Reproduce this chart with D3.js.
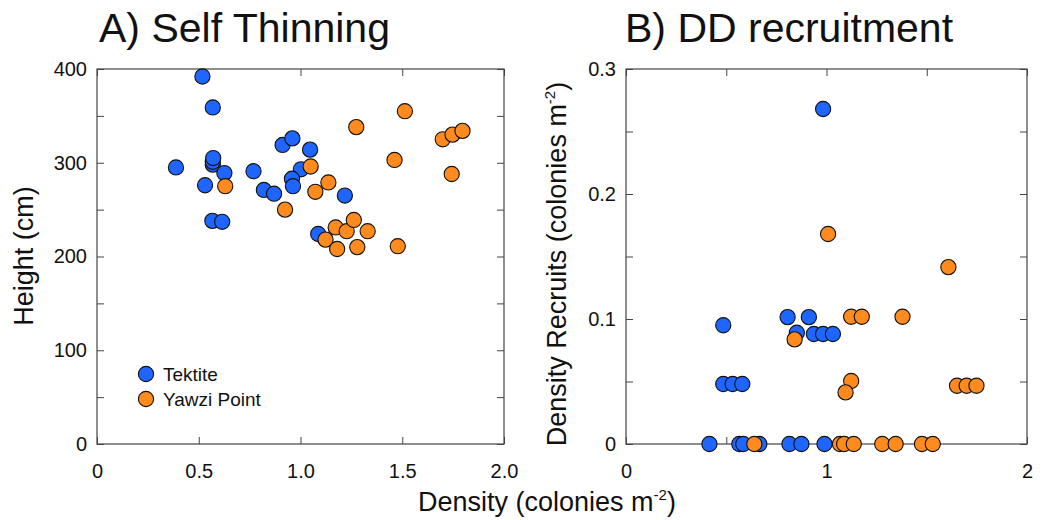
<!DOCTYPE html>
<html>
<head>
<meta charset="utf-8">
<script src="https://cdn.jsdelivr.net/npm/d3@7"></script>
<style>
  body { margin: 0; background: #fff; }
  svg text { font-family: "Liberation Sans", Arial, sans-serif; fill: #111; }
</style>
</head>
<body>
<div class="chart"></div>
<script>
// A) Self thinning: density vs height
const tektiteDensityA = [0.518, 0.569, 0.569, 0.569, 0.571, 0.388, 0.626, 0.531, 0.567, 0.615,
                         0.769, 0.82, 0.87, 0.912, 0.96, 1.047, 1.002, 0.958, 0.963, 1.218, 1.087]
const tektiteHeight   = [392, 359, 298, 301, 305, 295, 289, 276, 238, 237,
                         291, 271, 267, 319, 326, 314, 293, 283, 275, 265, 224]
const yawziDensityA   = [0.63, 0.924, 1.05, 1.073, 1.137, 1.274, 1.513, 1.462, 1.699, 1.747,
                         1.796, 1.743, 1.173, 1.227, 1.262, 1.33, 1.123, 1.18, 1.279, 1.478]
const yawziHeight     = [275, 250, 296, 269, 279, 338, 355, 303, 325, 330,
                         334, 288, 231, 227, 239, 227, 218, 208, 210, 211]

// B) DD recruitment: density vs recruit density
const tektiteDensityB  = [0.983, 0.485, 0.485, 0.532, 0.58, 0.806, 0.912, 0.852, 0.937, 0.983, 1.032,
                          0.416, 0.565, 0.585, 0.665, 0.815, 0.875, 0.99]
const tektiteRecruits  = [0.268, 0.095, 0.048, 0.048, 0.048, 0.1015, 0.1015, 0.089, 0.088, 0.088, 0.088,
                          0, 0, 0, 0, 0, 0, 0]
const yawziDensityB    = [1.008, 1.608, 1.123, 1.176, 1.379, 0.841, 1.123, 1.095, 1.651, 1.699, 1.748,
                          0.64, 1.067, 1.088, 1.136, 1.278, 1.345, 1.476, 1.53]
const yawziRecruits    = [0.168, 0.1415, 0.1018, 0.1018, 0.1018, 0.0837, 0.0504, 0.0413, 0.0466, 0.0466, 0.0466,
                          0, 0, 0, 0, 0, 0, 0, 0]

const xTicksA = [0, 0.5, 1, 1.5, 2]
const yTicksA = [0, 50, 100, 150, 200, 250, 300, 350, 400]
const xTicksB = [0, 0.5, 1, 1.5, 2]
const yTicksB = [0, 0.05, 0.1, 0.15, 0.2, 0.25, 0.3]

const blue = '#1f65ff'
const orange = '#ff8a1d'
const frameColor = '#444'

const svg = d3.select('.chart').append('svg')
    .attr('width', 1051)
    .attr('height', 520)

function panel(opts) {
    const x = d3.scaleLinear().domain([0, 2]).range([opts.left, opts.right])
    const y = d3.scaleLinear().domain(opts.yDomain).range([444, 69])
    const g = svg.append('g')

    // inward ticks on all four sides
    const addAxis = (axis, tx, ty, labels) => {
        const a = g.append('g')
            .attr('transform', `translate(${tx},${ty})`)
            .call(axis)
        a.select('.domain').remove()
        a.selectAll('.tick line').attr('stroke', frameColor)
        a.selectAll('text').attr('font-size', 20).attr('fill', '#111')
        if (!labels) a.selectAll('text').remove()
        return a
    }
    addAxis(d3.axisLeft(y).tickValues(opts.yTicks).tickSize(-7).tickPadding(10)
        .tickFormat(opts.yFmt), opts.left, 0, true)
    addAxis(d3.axisRight(y).tickValues(opts.yTicks).tickSize(-7), opts.right, 0, false)
    addAxis(d3.axisBottom(x).tickValues(opts.xTicks).tickSize(-7).tickPadding(20)
        .tickFormat(opts.xFmt), 0, 444, true)
    addAxis(d3.axisTop(x).tickValues(opts.xTicks).tickSize(-7), 0, 69, false)

    g.append('rect')
        .attr('x', opts.left).attr('y', 69)
        .attr('width', opts.right - opts.left).attr('height', 444 - 69)
        .attr('fill', 'none').attr('stroke', frameColor).attr('stroke-width', 1.2)

    const dots = (xs, ys, color) => {
        g.append('g').selectAll('circle')
            .data(xs.map((d, i) => [d, ys[i]]))
            .enter()
            .append('circle')
            .attr('cx', d => x(d[0]))
            .attr('cy', d => y(d[1]))
            .attr('r', 7.6)
            .attr('fill', color)
            .attr('stroke', '#111')
            .attr('stroke-width', 1.1)
    }
    dots(opts.blueX, opts.blueY, blue)
    dots(opts.orangeX, opts.orangeY, orange)

    svg.append('text')
        .attr('x', opts.titleX).attr('y', 42)
        .attr('font-size', 41)
        .text(opts.title)
}

panel({
    left: 97, right: 504, yDomain: [0, 400],
    xTicks: xTicksA, yTicks: yTicksA,
    xFmt: d => d === 0 ? '0' : d3.format('.1f')(d),
    yFmt: d => d % 100 === 0 ? d : '',
    blueX: tektiteDensityA, blueY: tektiteHeight,
    orangeX: yawziDensityA, orangeY: yawziHeight,
    title: 'A) Self Thinning', titleX: 99
})

panel({
    left: 626, right: 1027, yDomain: [0, 0.3],
    xTicks: xTicksB, yTicks: yTicksB,
    xFmt: d => Number.isInteger(d) ? d : '',
    yFmt: d => [0, 0.1, 0.2, 0.3].some(v => Math.abs(v - d) < 1e-9) ? (d === 0 ? '0' : d3.format('.1f')(d)) : '',
    blueX: tektiteDensityB, blueY: tektiteRecruits,
    orangeX: yawziDensityB, orangeY: yawziRecruits,
    title: 'B) DD recruitment', titleX: 625
})

// legend
const legend = svg.append('g')
const legendItems = [['Tektite', blue], ['Yawzi Point', orange]]
legendItems.forEach((d, i) => {
    legend.append('circle')
        .attr('cx', 146).attr('cy', 374 + i * 25)
        .attr('r', 7.6)
        .attr('fill', d[1]).attr('stroke', '#111').attr('stroke-width', 1.1)
    legend.append('text')
        .attr('x', 163).attr('y', 381 + i * 25)
        .attr('font-size', 19)
        .text(d[0])
})

// axis titles
svg.append('text')
    .attr('transform', 'translate(33,256) rotate(-90)')
    .attr('text-anchor', 'middle')
    .attr('font-size', 27)
    .text('Height (cm)')

const yLabB = svg.append('text')
    .attr('transform', 'translate(566,264) rotate(-90)')
    .attr('text-anchor', 'middle')
    .attr('font-size', 27)
yLabB.append('tspan').text('Density Recruits (colonies m')
yLabB.append('tspan').attr('font-size', 15).attr('dy', -11).text('-2')
yLabB.append('tspan').attr('dy', 11).text(')')

const xLab = svg.append('text')
    .attr('x', 547).attr('y', 511)
    .attr('text-anchor', 'middle')
    .attr('font-size', 27)
xLab.append('tspan').text('Density (colonies m')
xLab.append('tspan').attr('font-size', 15).attr('dy', -11).text('-2')
xLab.append('tspan').attr('dy', 11).text(')')
</script>
</body>
</html>
